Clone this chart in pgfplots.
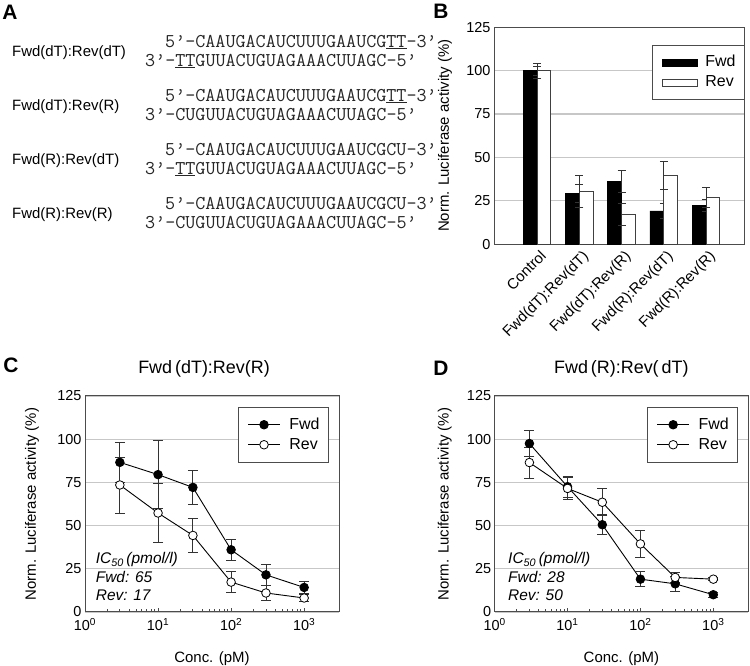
\documentclass[border=0pt]{standalone}
\usepackage{fontspec}
\setmainfont{Liberation Sans}
\usepackage{pgfplots}
\pgfplotsset{compat=1.18}
\usepackage{pgfplotstable}

\pgfplotstableread{
x fwd fwde rev reve
0 100 2.5 100 4.4
1 29.2 5.0 30.5 9.3
2 36.1 6.3 17.3 6.4
3 19.2 4.4 39.5 8.1
4 22.2 3.5 27.1 5.6
}\tabB

\pgfplotstableread{
x fwd fwde rev reve
3 86.6 11.7 73.5 16.2
10 79.5 19.6 57.3 17.0
30 72.1 9.8 44.3 10.0
100 36.0 6.2 17.3 6.0
300 21.5 6.2 11.0 4.3
1000 14.2 3.5 8.1 2.0
}\tabC

\pgfplotstableread{
x fwd fwde rev reve
3 97.5 7.7 86.5 9.0
10 72.5 6.0 71.5 6.5
30 50.5 5.8 63.5 7.8
100 19.0 4.2 39.4 7.9
300 16.3 4.2 20.0 3.0
1000 10.0 1.5 19.0 1.0
}\tabD

\newcommand{\p}{\textquoteright}
\newcommand{\seqf}{\fontsize{19.6}{21}\selectfont\ttfamily\color{black!85}}
\newcommand{\labf}{\fontsize{15}{18}\selectfont}

\pgfplotsset{
  panel/.style={
    scale only axis, anchor=south west,
    font=\fontsize{15}{18}\selectfont,
    tick label style={font=\fontsize{14.5}{17}\selectfont},
    /pgf/number format/assume math mode=true,
    axis line style={black!70, line width=1bp},
    ymin=0, ymax=125, ytick={0,25,...,125},
    ymajorgrids, grid style={black!22, line width=1.2bp},
    ytick style={draw=none},
    ylabel={Norm. Luciferase activity (\%)},
    legend cell align=left,
  },
  leg/.style={legend style={at={#1}, anchor=north east, draw=black!70, line width=1bp, fill=white,
    font=\fontsize{16}{18}\selectfont,
    nodes={inner sep=0bp, text height=11.5bp, text depth=3bp},
    /tikz/every odd column/.append style={column sep=9bp},
    inner xsep=9bp, inner ysep=10bp, row sep=5.5bp}},
  errs/.style={error bars/.cd, y dir=both, y explicit,
    error bar style={line width=0.9bp, black!80},
    error mark options={rotate=90, mark size=#1, line width=0.9bp, black!80}},
  lineleg/.style={legend image code/.code={\draw[mark repeat=2,mark phase=2,##1] plot coordinates {(0bp,0bp) (16bp,0bp) (32bp,0bp)};}},
  barleg/.style={legend image code/.code={\draw[##1] (0bp,-3.5bp) rectangle (35bp,3.5bp);}},
}

\begin{document}
\begin{tikzpicture}[x=1bp,y=1bp]
\useasboundingbox (0,0) rectangle (750,666);

% panel letters
\node[font=\fontsize{21}{24}\selectfont\bfseries] at (10,653.5) {A};
\node[font=\fontsize{21}{24}\selectfont\bfseries] at (441,655) {B};
\node[font=\fontsize{21}{24}\selectfont\bfseries] at (11,301) {C};
\node[font=\fontsize{21}{24}\selectfont\bfseries] at (441,298) {D};

% panel A
\node[anchor=west, inner sep=0, font=\labf] at (12,613) {Fwd(dT):Rev(dT)};
\node[anchor=west, inner sep=0, font=\seqf] at (165,624) {5\p-CAAUGACAUCUUUGAAUCG\underline{TT}-3\p};
\node[anchor=west, inner sep=0, font=\seqf] at (145,605) {3\p-\underline{TT}GUUACUGUAGAAACUUAGC-5\p};

\node[anchor=west, inner sep=0, font=\labf] at (12,559) {Fwd(dT):Rev(R)};
\node[anchor=west, inner sep=0, font=\seqf] at (165,570) {5\p-CAAUGACAUCUUUGAAUCG\underline{TT}-3\p};
\node[anchor=west, inner sep=0, font=\seqf] at (145,551) {3\p-CUGUUACUGUAGAAACUUAGC-5\p};

\node[anchor=west, inner sep=0, font=\labf] at (12,505) {Fwd(R):Rev(dT)};
\node[anchor=west, inner sep=0, font=\seqf] at (165,516) {5\p-CAAUGACAUCUUUGAAUCGCU-3\p};
\node[anchor=west, inner sep=0, font=\seqf] at (145,497) {3\p-\underline{TT}GUUACUGUAGAAACUUAGC-5\p};

\node[anchor=west, inner sep=0, font=\labf] at (12,451) {Fwd(R):Rev(R)};
\node[anchor=west, inner sep=0, font=\seqf] at (165,462) {5\p-CAAUGACAUCUUUGAAUCGCU-3\p};
\node[anchor=west, inner sep=0, font=\seqf] at (145,443) {3\p-CUGUUACUGUAGAAACUUAGC-5\p};

% panel B
\begin{axis}[panel,
  at={(494bp,421.7bp)}, width=250bp, height=217bp,
  xmin=-1.02, xmax=4.9,
  xtick={0,...,4},
  xticklabels={Control,Fwd(dT):Rev(dT),Fwd(dT):Rev(R),Fwd(R):Rev(dT),Fwd(R):Rev(R)},
  x tick label style={rotate=45, anchor=north east, inner sep=2bp, yshift=-3bp, font=\fontsize{15}{18}\selectfont},
  xtick style={draw=none},
  ylabel style={at={(axis description cs:-0.196,0.5)}, anchor=center},
  leg={(1.004,0.919)},
  legend style={/tikz/every odd column/.append style={column sep=8bp}},
]
\addplot[ybar, bar width=13.8bp, bar shift=-6.9bp, fill=black, draw=black, line width=0.8bp, barleg, errs=4bp]
  table[x=x, y=fwd, y error=fwde] {\tabB};
\addlegendentry{Fwd\hspace{6bp}}
\addplot[ybar, bar width=13.8bp, bar shift=6.9bp, fill=white, draw=black!75, line width=0.8bp, barleg, errs=4bp]
  table[x=x, y=rev, y error=reve] {\tabB};
\addlegendentry{Rev}
\end{axis}

% panel C
\begin{axis}[panel,
  at={(85bp,54bp)}, width=254bp, height=216bp,
  xmode=log, xmin=1, xmax=3000,
  xtick={1,10,100,1000},
  xticklabels={10\textsuperscript{0},10\textsuperscript{1},10\textsuperscript{2},10\textsuperscript{3}},
  xticklabel style={yshift=-3bp},
  tick pos=left, xtick style={black!70, line width=0.9bp},
  xlabel={Conc. (pM)},
  xlabel style={yshift=-14bp},
  ylabel style={at={(axis description cs:-0.209,0.5)}, anchor=center},
  title={Fwd\,(dT):Rev(R)},
  title style={font=\fontsize{18}{21}\selectfont, at={(0.5,1.134)}, anchor=center, yshift=-8bp, xshift=-8bp},
  leg={(0.961,0.949)},
]
\addplot[black, line width=0.9bp, mark=*, mark size=4.3bp, mark options={fill=black, line width=0.8bp}, lineleg, errs=5bp]
  table[x=x, y=fwd, y error=fwde] {\tabC};
\addlegendentry{Fwd\hspace{6bp}}
\addplot[black, line width=0.9bp, mark=*, mark size=4.3bp, mark options={fill=white, line width=0.8bp}, lineleg, errs=5bp]
  table[x=x, y=rev, y error=reve] {\tabC};
\addlegendentry{Rev}
\node[anchor=west, inner sep=0, font=\itshape\fontsize{15.5}{18}\selectfont] at (rel axis cs:0.042,0.241) {IC\textsubscript{50}\,(pmol/l)};
\node[anchor=west, inner sep=0, font=\itshape\fontsize{15.5}{18}\selectfont] at (rel axis cs:0.042,0.163) {Fwd: 65};
\node[anchor=west, inner sep=0, font=\itshape\fontsize{15.5}{18}\selectfont] at (rel axis cs:0.042,0.079) {Rev: 17};
\end{axis}

% panel D
\begin{axis}[panel,
  at={(494.6bp,54bp)}, width=253.5bp, height=216bp,
  xmode=log, xmin=1, xmax=3000,
  xtick={1,10,100,1000},
  xticklabels={10\textsuperscript{0},10\textsuperscript{1},10\textsuperscript{2},10\textsuperscript{3}},
  xticklabel style={yshift=-3bp},
  tick pos=left, xtick style={black!70, line width=0.9bp},
  xlabel={Conc. (pM)},
  xlabel style={yshift=-14bp},
  ylabel style={at={(axis description cs:-0.197,0.5)}, anchor=center},
  title={Fwd\,(R):Rev(\,dT)},
  title style={font=\fontsize{18}{21}\selectfont, at={(0.5,1.134)}, anchor=center, yshift=-8bp},
  leg={(0.961,0.949)},
]
\addplot[black, line width=0.9bp, mark=*, mark size=4.3bp, mark options={fill=black, line width=0.8bp}, lineleg, errs=5bp]
  table[x=x, y=fwd, y error=fwde] {\tabD};
\addlegendentry{Fwd\hspace{6bp}}
\addplot[black, line width=0.9bp, mark=*, mark size=4.3bp, mark options={fill=white, line width=0.8bp}, lineleg, errs=5bp]
  table[x=x, y=rev, y error=reve] {\tabD};
\addlegendentry{Rev}
\node[anchor=west, inner sep=0, font=\itshape\fontsize{15.5}{18}\selectfont] at (rel axis cs:0.053,0.241) {IC\textsubscript{50}\,(pmol/l)};
\node[anchor=west, inner sep=0, font=\itshape\fontsize{15.5}{18}\selectfont] at (rel axis cs:0.053,0.163) {Fwd: 28};
\node[anchor=west, inner sep=0, font=\itshape\fontsize{15.5}{18}\selectfont] at (rel axis cs:0.053,0.079) {Rev: 50};
\end{axis}
\end{tikzpicture}
\end{document}
